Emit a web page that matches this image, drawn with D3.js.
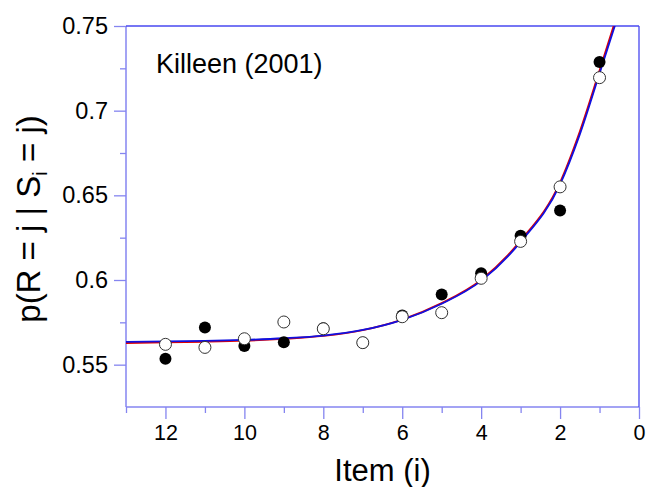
<!DOCTYPE html>
<html>
<head>
<meta charset="utf-8">
<script src="https://cdn.jsdelivr.net/npm/d3@7"></script>
<style>
  body { margin: 0; background: #fff; }
  svg text { font-family: "Liberation Sans", Arial, sans-serif; fill: #000; }
</style>
</head>
<body>
<div id="chart"></div>
<script>
// data
var items = [12, 11, 10, 9, 8, 7, 6, 5, 4, 3, 2, 1];
var filledVals = [0.5535, 0.572, 0.561, 0.5632, 0.5715, 0.563, 0.579, 0.5915, 0.604, 0.6262, 0.6411, 0.7287];
var openVals = [0.562, 0.5602, 0.5653, 0.5752, 0.5712, 0.563, 0.5783, 0.5807, 0.601, 0.6228, 0.655, 0.7195];

// fitted curves (two nearly identical lines)
var fitItems = [13, 12, 11, 10, 9, 8, 7, 6, 5, 4, 3, 2, 1.5, 1, 0.6];
var blueFit = [0.5635, 0.5637, 0.564, 0.5646, 0.5656, 0.5672, 0.5705, 0.5765, 0.586, 0.5995, 0.6225, 0.6565, 0.686, 0.722, 0.751];
var redFit = [0.5628, 0.5632, 0.5636, 0.5642, 0.5653, 0.567, 0.5704, 0.5766, 0.5863, 0.6, 0.6232, 0.6575, 0.6875, 0.7235, 0.753];

var xTicks = [12, 10, 8, 6, 4, 2, 0];
var xMinor = [13, 11, 9, 7, 5, 3, 1];
var yTicks = [0.55, 0.6, 0.65, 0.7, 0.75];
var yMinor = [0.575, 0.625, 0.675, 0.725];

var width = 647, height = 487;
var margin = {left: 126, top: 26, right: 8, bottom: 80};

var svg = d3.select("#chart").append("svg")
  .attr("width", width)
  .attr("height", height);

var x = d3.scaleLinear().domain([13, 0]).range([margin.left, width - margin.right]);
var y = d3.scaleLinear().domain([0.525, 0.75]).range([height - margin.bottom, margin.top]);

var lightBlue = "#8585f0",
  darkBlue = "#4848f0";

// clip for curves
svg.append("clipPath").attr("id", "plotclip")
  .append("rect")
  .attr("x", x(13)).attr("y", y(0.75))
  .attr("width", x(0) - x(13)).attr("height", y(0.525) - y(0.75));

// axes
var xAxis = svg.append("g")
  .attr("transform", "translate(0," + y(0.525) + ")")
  .call(d3.axisBottom(x).tickValues(xTicks).tickSize(12).tickPadding(6).tickFormat(d3.format("d")));
var xAxisMinor = svg.append("g")
  .attr("transform", "translate(0," + y(0.525) + ")")
  .call(d3.axisBottom(x).tickValues(xMinor).tickSize(6).tickFormat(""));

var yAxis = svg.append("g")
  .attr("transform", "translate(" + x(13) + ",0)")
  .call(d3.axisLeft(y).tickValues(yTicks).tickSize(12).tickPadding(6).tickFormat(function(d) { return String(+d.toFixed(3)); }));
var yAxisMinor = svg.append("g")
  .attr("transform", "translate(" + x(13) + ",0)")
  .call(d3.axisLeft(y).tickValues(yMinor).tickSize(6).tickFormat(""));

[xAxis, xAxisMinor, yAxis, yAxisMinor].forEach(function(g) {
  g.select(".domain").remove();
  g.selectAll(".tick line").attr("stroke", lightBlue).attr("stroke-width", 1.3);
  g.selectAll(".tick text").attr("fill", "#000");
});
xAxis.selectAll(".tick text").style("font-size", "21.5px");
yAxis.selectAll(".tick text").style("font-size", "23.5px");

// frame
svg.append("line")
  .attr("x1", x(13)).attr("x2", x(13)).attr("y1", y(0.75)).attr("y2", y(0.525))
  .attr("stroke", lightBlue).attr("stroke-width", 1.5);
svg.append("line")
  .attr("x1", x(13)).attr("x2", x(0)).attr("y1", y(0.525)).attr("y2", y(0.525))
  .attr("stroke", lightBlue).attr("stroke-width", 1.5);
svg.append("line")
  .attr("x1", x(13)).attr("x2", x(0)).attr("y1", y(0.75)).attr("y2", y(0.75))
  .attr("stroke", darkBlue).attr("stroke-width", 1.3);
svg.append("line")
  .attr("x1", x(0)).attr("x2", x(0)).attr("y1", y(0.75)).attr("y2", y(0.525))
  .attr("stroke", darkBlue).attr("stroke-width", 1.3);

// curves
var line = d3.line()
  .x(function(d) { return x(d[0]); })
  .y(function(d) { return y(d[1]); })
  .curve(d3.curveMonotoneX);

svg.append("path")
  .datum(fitItems.map(function(v, i) { return [v, redFit[i]]; }))
  .attr("clip-path", "url(#plotclip)")
  .attr("d", line)
  .attr("fill", "none").attr("stroke", "#e00000").attr("stroke-width", 2);

svg.append("path")
  .datum(fitItems.map(function(v, i) { return [v, blueFit[i]]; }))
  .attr("clip-path", "url(#plotclip)")
  .attr("d", line)
  .attr("fill", "none").attr("stroke", "#1010e0").attr("stroke-width", 1.8);

// points
svg.selectAll("circle.filled")
  .data(items)
  .enter().append("circle")
  .attr("class", "filled")
  .attr("cx", function(d) { return x(d); })
  .attr("cy", function(d, i) { return y(filledVals[i]); })
  .attr("r", 6)
  .attr("fill", "#000");

svg.selectAll("circle.open")
  .data(items)
  .enter().append("circle")
  .attr("class", "open")
  .attr("cx", function(d) { return x(d); })
  .attr("cy", function(d, i) { return y(openVals[i]); })
  .attr("r", 6)
  .attr("fill", "#fff")
  .attr("stroke", "#333")
  .attr("stroke-width", 1);

// labels
svg.append("text")
  .attr("x", 156).attr("y", 73)
  .style("font-size", "27px")
  .text("Killeen (2001)");

svg.append("text")
  .attr("x", (x(13) + x(0)) / 2).attr("y", 481)
  .attr("text-anchor", "middle")
  .style("font-size", "31px")
  .text("Item (i)");

var ylab = svg.append("text")
  .attr("transform", "translate(40,219) rotate(-90)")
  .attr("text-anchor", "middle")
  .style("font-size", "33px");
ylab.append("tspan").text("p(R = j | S");
ylab.append("tspan").attr("dy", 7).style("font-size", "20px").text("i");
ylab.append("tspan").attr("dy", -7).text(" = j)");
</script>
</body>
</html>
